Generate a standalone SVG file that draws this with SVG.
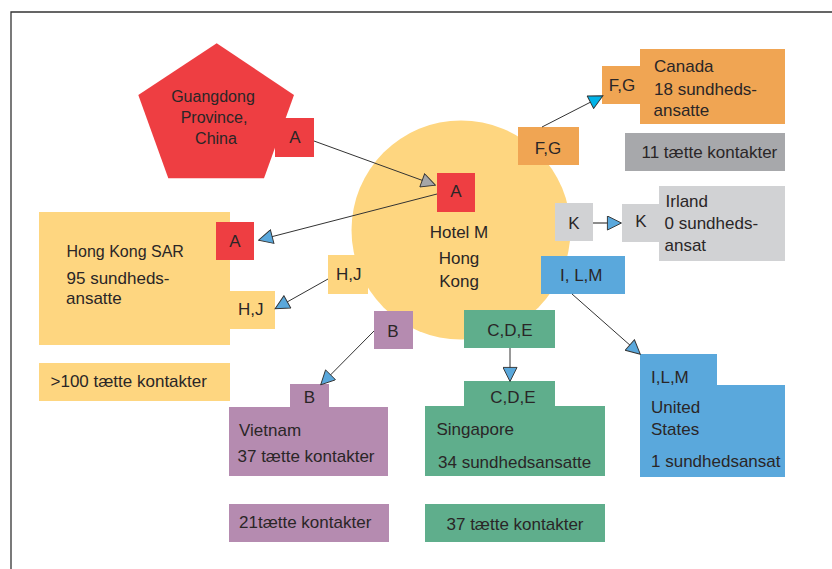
<svg xmlns="http://www.w3.org/2000/svg" width="832" height="569" viewBox="0 0 832 569">
<defs>
<style>
text{font-family:"Liberation Sans",Arial,sans-serif;font-size:17px;fill:#2a2627}
.c{text-anchor:middle}
.red{fill:#ee3e42}.yel{fill:#fed680}.ora{fill:#f0a553}.gd{fill:#a7a8ab}.gl{fill:#d1d2d4}.blu{fill:#5aa8dc}.grn{fill:#5fae8c}.pur{fill:#b58bb0}
.ln{stroke:#333;stroke-width:1;fill:none}
</style>
<marker id="ab" viewBox="0 0 16 16" refX="15" refY="8" markerWidth="16" markerHeight="15" markerUnits="userSpaceOnUse" orient="auto"><path d="M0.5,0.5 L15.5,8 L0.5,15.5 Z" fill="#5aa8dc" stroke="#333" stroke-width="1"/></marker>
<marker id="ac" viewBox="0 0 16 16" refX="15" refY="8" markerWidth="16" markerHeight="15" markerUnits="userSpaceOnUse" orient="auto"><path d="M0.5,0.5 L15.5,8 L0.5,15.5 Z" fill="#00b3e8" stroke="#333" stroke-width="1"/></marker>
<marker id="ag" viewBox="0 0 16 16" refX="15" refY="8" markerWidth="16" markerHeight="15" markerUnits="userSpaceOnUse" orient="auto"><path d="M0.5,0.5 L15.5,8 L0.5,15.5 Z" fill="#a5a6a8" stroke="#333" stroke-width="1"/></marker>
</defs>
<rect width="832" height="569" fill="#fff"/>
<path d="M11,569 V12 H832" stroke="#333" stroke-width="1.3" fill="none"/>

<g id="hotel">
<circle cx="461" cy="230" r="109.5" class="yel"/>
<text x="459" y="238" class="c">Hotel M</text>
<text x="459" y="264" class="c">Hong</text>
<text x="459" y="287" class="c">Kong</text>
</g>
<g id="hotel-a">
<rect x="437" y="173" width="38" height="39" class="red"/>
<text x="456" y="197" class="c">A</text>
</g>

<g id="guangdong">
<polygon points="216.7,43.3 294,95 264,178.3 168.3,178.3 138.3,95" class="red"/>
<text x="213" y="102" class="c" style="font-size:16px">Guangdong</text>
<text x="214" y="123" class="c" style="font-size:16px">Province,</text>
<text x="216" y="144" class="c" style="font-size:16px">China</text>
<rect x="275" y="118" width="39" height="39" class="red"/>
<text x="295" y="143" class="c">A</text>
</g>

<g id="hongkong">
<rect x="39" y="212" width="191" height="133" class="yel"/>
<rect x="229" y="291" width="46" height="38" class="yel"/>
<text x="66.5" y="257" style="font-size:16px">Hong Kong SAR</text>
<text x="66.5" y="284">95 sundheds-</text>
<text x="66" y="304">ansatte</text>
<text x="238" y="315">H,J</text>
<rect x="216" y="222" width="38" height="38" class="red"/>
<text x="235" y="247" class="c">A</text>
</g>
<g id="hongkong-contacts">
<rect x="39" y="363" width="191" height="38" class="yel"/>
<text x="50.5" y="387">&gt;100 tætte kontakter</text>
</g>

<g id="src-hj">
<rect x="328" y="255" width="40" height="39" class="yel"/>
<text x="336" y="280">H,J</text>
</g>
<g id="src-b">
<rect x="374" y="311" width="39" height="38" class="pur"/>
<text x="393" y="337" class="c">B</text>
</g>
<g id="src-cde">
<rect x="464" y="310" width="91" height="38" class="grn"/>
<text x="510" y="336" class="c">C,D,E</text>
</g>
<g id="src-ilm">
<rect x="541" y="256" width="84" height="38" class="blu"/>
<text x="560" y="281">I, L,M</text>
</g>
<g id="src-k">
<rect x="555" y="203" width="38" height="38" class="gl"/>
<text x="574" y="229" class="c">K</text>
</g>
<g id="src-fg">
<rect x="518" y="127" width="61" height="38" class="ora"/>
<text x="548" y="154" class="c">F,G</text>
</g>

<g id="canada">
<rect x="640" y="49" width="145" height="75" class="ora"/>
<rect x="602" y="66" width="39" height="38" class="ora"/>
<text x="622" y="91" class="c">F,G</text>
<text x="654" y="72">Canada</text>
<text x="654" y="95">18 sundheds-</text>
<text x="653.5" y="116">ansatte</text>
</g>
<g id="canada-contacts">
<rect x="625" y="133" width="160" height="38" class="gd"/>
<text x="641.5" y="158">11 tætte kontakter</text>
</g>

<g id="irland">
<rect x="659" y="186" width="126" height="75" class="gl"/>
<rect x="622" y="204" width="38" height="38" class="gl"/>
<text x="641" y="227" class="c">K</text>
<text x="665.5" y="207">Irland</text>
<text x="664.5" y="229">0 sundheds-</text>
<text x="664.5" y="251">ansat</text>
</g>

<g id="usa">
<rect x="640" y="354" width="77" height="32" class="blu"/>
<rect x="640" y="385" width="145" height="92" class="blu"/>
<text x="651" y="383">I,L,M</text>
<text x="651" y="413">United</text>
<text x="651" y="435">States</text>
<text x="651" y="467">1 sundhedsansat</text>
</g>

<g id="vietnam">
<rect x="290" y="384" width="39" height="24" class="pur"/>
<rect x="229" y="407" width="159" height="69" class="pur"/>
<text x="309.5" y="402.5" class="c">B</text>
<text x="239" y="436">Vietnam</text>
<text x="237.5" y="462">37 tætte kontakter</text>
</g>
<g id="vietnam-contacts">
<rect x="229" y="504" width="160" height="38" class="pur"/>
<text x="239" y="528">21tætte kontakter</text>
</g>

<g id="singapore">
<rect x="464" y="381" width="91" height="26" class="grn"/>
<rect x="425" y="406" width="180" height="70" class="grn"/>
<text x="513" y="402.5" class="c">C,D,E</text>
<text x="436.5" y="435">Singapore</text>
<text x="438" y="468">34 sundhedsansatte</text>
</g>
<g id="singapore-contacts">
<rect x="425" y="504" width="180" height="38" class="grn"/>
<text x="446.5" y="530">37 tætte kontakter</text>
</g>

<g id="connectors">
<line x1="314" y1="141" x2="435" y2="185" class="ln" marker-end="url(#ag)"/>
<line x1="437" y1="194" x2="259" y2="240" class="ln" marker-end="url(#ab)"/>
<line x1="328" y1="279" x2="275.5" y2="308.5" class="ln" marker-end="url(#ab)"/>
<line x1="374" y1="331" x2="321" y2="384.5" class="ln" marker-end="url(#ab)"/>
<line x1="510" y1="348" x2="510" y2="381" class="ln" marker-end="url(#ab)"/>
<line x1="572" y1="294" x2="640" y2="354" class="ln" marker-end="url(#ab)"/>
<line x1="593" y1="223" x2="621" y2="223" class="ln" style="stroke:#666;stroke-width:1.5" marker-end="url(#ab)"/>
<line x1="542" y1="127" x2="602.5" y2="96" class="ln" marker-end="url(#ac)"/>
</g>
</svg>
